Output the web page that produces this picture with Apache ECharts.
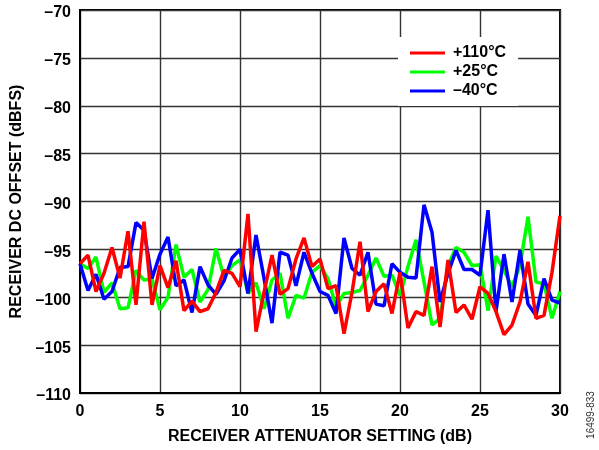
<!DOCTYPE html>
<html>
<head>
<meta charset="utf-8">
<script src="https://cdn.jsdelivr.net/npm/echarts@6/dist/echarts.min.js"></script>
<style>html,body{margin:0;padding:0;background:#fff;}#c{width:599px;height:450px;}</style>
</head>
<body>
<div id="c"></div>
<script>
const xValues = [0,0.5,1,1.5,2,2.5,3,3.5,4,4.5,5,5.5,6,6.5,7,7.5,8,8.5,9,9.5,10,10.5,11,11.5,12,12.5,13,13.5,14,14.5,15,15.5,16,16.5,17,17.5,18,18.5,19,19.5,20,20.5,21,21.5,22,22.5,23,23.5,24,24.5,25,25.5,26,26.5,27,27.5,28,28.5,29,29.5,30];
const red110 = [-96.5,-95.6,-99.4,-97.5,-94.8,-98.0,-93.1,-100.8,-92.1,-100.8,-96.7,-99.0,-96.2,-101.4,-100.4,-101.5,-101.2,-99.5,-97.2,-97.5,-98.9,-91.3,-103.6,-99.5,-95.6,-99.7,-99.1,-96.0,-93.8,-96.8,-96.0,-99.1,-98.8,-103.8,-99.5,-94.2,-101.5,-99.4,-98.6,-101.7,-97.4,-103.2,-101.5,-101.9,-96.8,-103.1,-96.1,-101.6,-100.8,-102.3,-98.9,-99.6,-101.5,-103.9,-102.9,-100.5,-96.3,-102.2,-101.9,-97.4,-91.5];
const green25 = [-96.5,-97.0,-95.8,-99.5,-98.5,-101.2,-101.1,-97.2,-98.2,-98.1,-101.3,-100.0,-94.5,-97.9,-97.1,-100.5,-99.2,-94.9,-97.9,-96.7,-96.1,-99.6,-98.5,-101.2,-98.2,-97.5,-102.2,-99.8,-100.1,-97.4,-96.7,-98.05,-101.0,-99.6,-99.5,-99.3,-97.7,-95.9,-97.8,-97.7,-99.8,-96.8,-94.0,-98.4,-102.9,-102.2,-96.7,-94.8,-95.3,-96.7,-96.6,-101.4,-95.7,-97.2,-98.9,-96.7,-91.6,-98.4,-98.6,-102.2,-99.4];
const blueM40 = [-96.5,-99.3,-97.6,-100.2,-99.4,-96.9,-96.8,-92.2,-93.0,-98.05,-95.5,-93.7,-98.8,-98.2,-101.6,-96.8,-98.7,-99.7,-98.3,-95.9,-95.0,-99.6,-93.5,-98.0,-102.7,-95.3,-95.6,-98.8,-95.3,-97.5,-99.4,-99.8,-101.7,-93.8,-97.0,-97.7,-95.3,-100.7,-100.9,-96.5,-97.4,-97.9,-98.0,-90.35,-93.2,-100.5,-97.5,-95.1,-97.1,-97.1,-97.7,-90.9,-101.5,-95.5,-100.5,-95.1,-100.7,-101.9,-98.05,-100.3,-100.6];
const seriesNames = ['+110°C', '+25°C', '\u201340°C'];
const xTicks = [0,5,10,15,20,25,30];
const yTicks = [-110,-105,-100,-95,-90,-85,-80,-75,-70];
const xTitle = 'RECEIVER ATTENUATOR SETTING (dB)';
const yTitle = 'RECEIVER DC OFFSET (dBFS)';
const figId = '16499-833';

const FONT = '"Liberation Sans", Arial, Helvetica, sans-serif';
const pair = (ys) => xValues.map((x, i) => [x, ys[i]]);
const fmt = (v) => v < 0 ? '\u2013' + Math.abs(v) : String(v);

const chart = echarts.init(document.getElementById('c'), null, {renderer: 'canvas'});
chart.setOption({
  animation: false,
  backgroundColor: '#fff',
  grid: {left: 80, right: 39, top: 10, bottom: 55, show: true, borderColor: '#000', borderWidth: 2, containLabel: false},
  xAxis: {
    type: 'value', min: xTicks[0], max: xTicks[xTicks.length-1], interval: 5,
    name: xTitle, nameLocation: 'middle', nameGap: 36,
    nameTextStyle: {fontFamily: FONT, fontWeight: 'bold', fontSize: 16, color: '#000'},
    axisLine: {show: true, onZero: false, lineStyle: {color: '#000', width: 2}},
    axisTick: {show: false},
    axisLabel: {fontFamily: FONT, fontWeight: 'bold', fontSize: 16, color: '#000', margin: 11, formatter: fmt},
    splitLine: {show: true, lineStyle: {color: '#333', width: 1.4}}
  },
  yAxis: {
    type: 'value', min: yTicks[0], max: yTicks[yTicks.length-1], interval: 5,
    name: yTitle, nameLocation: 'middle', nameGap: 53, nameRotate: 90,
    nameTextStyle: {fontFamily: FONT, fontWeight: 'bold', fontSize: 16, color: '#000'},
    axisLine: {show: true, onZero: false, lineStyle: {color: '#000', width: 2}},
    axisTick: {show: false},
    axisLabel: {fontFamily: FONT, fontWeight: 'bold', fontSize: 16, color: '#000', margin: 9, verticalAlign: 'top', lineHeight: 6, formatter: fmt},
    splitLine: {show: true, lineStyle: {color: '#333', width: 1.4}}
  },
  legend: {
    orient: 'vertical', left: 398, top: 37,
    data: seriesNames,
    icon: 'rect', itemWidth: 35, itemHeight: 3, itemGap: 3,
    padding: [8, 12, 7, 12],
    backgroundColor: '#fff',
    textStyle: {fontFamily: FONT, fontWeight: 'bold', fontSize: 16, color: '#000', padding: [0, 0, 0, 3]}
  },
  series: [
    {name: seriesNames[1], type: 'line', data: pair(green25), symbol: 'none', lineStyle: {color: '#00ff00', width: 3.5}, itemStyle: {color: '#00ff00'}, z: 2},
    {name: seriesNames[2], type: 'line', data: pair(blueM40), symbol: 'none', lineStyle: {color: '#0000ff', width: 3.5}, itemStyle: {color: '#0000ff'}, z: 3},
    {name: seriesNames[0], type: 'line', data: pair(red110), symbol: 'none', lineStyle: {color: '#ff0000', width: 3.5}, itemStyle: {color: '#ff0000'}, z: 4}
  ],
  graphic: [{
    type: 'text', x: 596, y: 415, rotation: Math.PI / 2,
    style: {text: figId, fontFamily: FONT, fontSize: 10, fill: '#333', align: 'center', verticalAlign: 'bottom'}
  }]
});
</script>
</body>
</html>
